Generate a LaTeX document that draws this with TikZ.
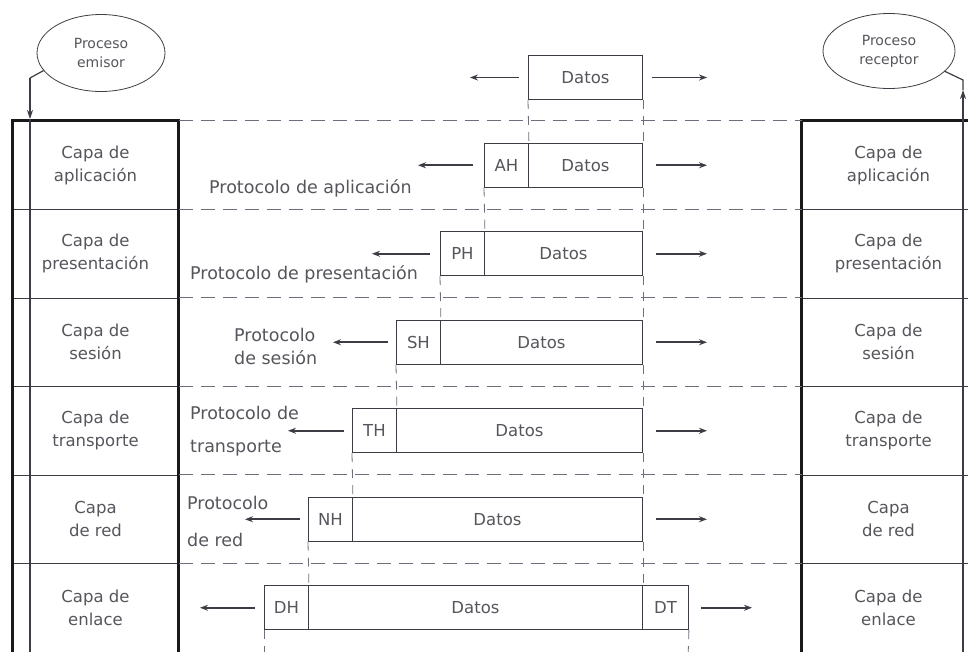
\documentclass[tikz,border=0pt]{standalone}
\usepackage{fontspec}
\setmainfont{DejaVu Sans}
\usetikzlibrary{shapes.geometric,arrows.meta}
\definecolor{ink}{HTML}{3C3C44}
\definecolor{txt}{HTML}{55555C}
\definecolor{dashc}{HTML}{6E6E7C}
\begin{document}
\begin{tikzpicture}[x=1pt,y=-1pt,
  font=\fontsize{16.5}{23}\selectfont,
  layer/.style={draw=ink, line width=1pt, minimum height=88.5pt, inner sep=0pt, text=txt, align=center},
  frame/.style={draw=black!90, line width=2.2pt},
  pkt/.style={draw=ink, line width=0.9pt, minimum height=44pt, inner sep=0pt, text=txt, anchor=west},
  hdr/.style={pkt, minimum width=44pt},
  vdash/.style={draw=dashc, line width=0.8pt, dash pattern=on 9pt off 7pt},
  hdash/.style={draw=dashc, line width=0.8pt, dash pattern=on 14pt off 8pt},
  arr/.style={draw=ink, line width=1.7pt, -{Stealth[length=8pt,width=6pt]}},
  proto/.style={text=txt, align=left, inner sep=0pt, font=\fontsize{17.5}{23}\selectfont},
  proc/.style={ellipse, draw=ink, line width=0.8pt, text=txt, align=center, inner sep=0pt,
    font=\fontsize{14}{19}\selectfont},
  conn/.style={draw=ink, line width=1.2pt}
]
\useasboundingbox (0,0) rectangle (968,651);

% ---------- process ellipses ----------
\node[proc, minimum width=128pt, minimum height=77pt] (emisor) at (101,53) {Proceso\\emisor};
\node[proc, minimum width=132pt, minimum height=75pt] (recep) at (889,51) {Proceso\\receptor};

% ---------- left stack ----------
\node[layer, minimum width=165pt] (l1) at (95.5,165.25) {Capa de\\aplicación};
\node[layer, minimum width=165pt] (l2) at (95.5,253.75) {Capa de\\presentación};
\node[layer, minimum width=165pt] (l3) at (95.5,342.25) {Capa de\\sesión};
\node[layer, minimum width=165pt] (l4) at (95.5,430.75) {Capa de\\transporte};
\node[layer, minimum width=165pt] (l5) at (95.5,519.25) {Capa\\de red};
\node[layer, minimum width=165pt] (l6) at (95.5,607.75) {Capa de\\enlace};
\draw[frame] (l6.south west) -- (l1.north west) -- (l1.north east) -- (l6.south east);

% ---------- right stack ----------
\node[layer, minimum width=173pt] (r1) at (888.5,165.25) {Capa de\\aplicación};
\node[layer, minimum width=173pt] (r2) at (888.5,253.75) {Capa de\\presentación};
\node[layer, minimum width=173pt] (r3) at (888.5,342.25) {Capa de\\sesión};
\node[layer, minimum width=173pt] (r4) at (888.5,430.75) {Capa de\\transporte};
\node[layer, minimum width=173pt] (r5) at (888.5,519.25) {Capa\\de red};
\node[layer, minimum width=173pt] (r6) at (888.5,607.75) {Capa de\\enlace};
\draw[frame] (r6.south west) -- (r1.north west) -- (r1.north east);

% ---------- process connectors ----------
\coordinate (ebend) at (30,78);
\coordinate (etip) at (30,119);
\coordinate (ebot) at (30,660);
\draw[conn] (emisor.197) -- (ebend);
\draw[conn, -{Stealth[length=9pt,width=6pt]}] (ebend) -- (etip);
\draw[conn] (etip) -- (ebot);
\coordinate (rbend) at (963,80);
\coordinate (rtip) at (963,90);
\coordinate (rbot) at (963,660);
\draw[conn] (recep.340) -- (rbend) -- (rtip);
\draw[conn, -{Stealth[length=9pt,width=6pt]}] (rbot) -- (rtip);

% ---------- horizontal dashed lines ----------
\draw[hdash] (l1.north east) -- (r1.north west);
\draw[hdash] (l2.north east) -- (r2.north west);
\draw[hdash] (l3.north east) -- (r3.north west);
\draw[hdash] (l4.north east) -- (r4.north west);
\draw[hdash] (l5.north east) -- (r5.north west);
\draw[hdash] (l6.north east) -- (r6.north west);

% ---------- packets ----------
\node[pkt, minimum width=114pt] (d0) at (528,77.5) {Datos};

\node[hdr] (h1) at (484,165.25) {AH};
\node[pkt, minimum width=114pt] (d1) at (528,165.25) {Datos};

\node[hdr] (h2) at (440,253.75) {PH};
\node[pkt, minimum width=158pt] (d2) at (484,253.75) {Datos};

\node[hdr] (h3) at (396,342.25) {SH};
\node[pkt, minimum width=202pt] (d3) at (440,342.25) {Datos};

\node[hdr] (h4) at (352,430.75) {TH};
\node[pkt, minimum width=246pt] (d4) at (396,430.75) {Datos};

\node[hdr] (h5) at (308,519.25) {NH};
\node[pkt, minimum width=290pt] (d5) at (352,519.25) {Datos};

\node[hdr] (h6) at (264,607.75) {DH};
\node[pkt, minimum width=334pt] (d6) at (308,607.75) {Datos};
\node[hdr, minimum width=46pt] (t6) at (642,607.75) {DT};

% ---------- vertical dashed guides ----------
\draw[vdash] (d0.south west) -- (h1.north east);
\draw[vdash] (d0.south east) -- (d1.north east);
\draw[vdash] (h1.south west) -- (h2.north east);
\draw[vdash] (d1.south east) -- (d2.north east);
\draw[vdash] (h2.south west) -- (h3.north east);
\draw[vdash] (d2.south east) -- (d3.north east);
\draw[vdash] (h3.south west) -- (h4.north east);
\draw[vdash] (d3.south east) -- (d4.north east);
\draw[vdash] (h4.south west) -- (h5.north east);
\draw[vdash] (d4.south east) -- (d5.north east);
\draw[vdash] (h5.south west) -- (h6.north east);
\draw[vdash] (d5.south east) -- (d6.north east);
\coordinate (g6l) at (264,660);
\coordinate (g6r) at (688,660);
\draw[vdash] (h6.south west) -- (g6l);
\draw[vdash] (t6.south east) -- (g6r);

% ---------- left arrows ----------
\coordinate (a0) at (470,77.5);
\coordinate (a1) at (418,165.25);
\coordinate (a2) at (372,253.75);
\coordinate (a3) at (333,342.25);
\coordinate (a4) at (288,430.75);
\coordinate (a5) at (245,519.25);
\coordinate (a6) at (200,607.75);
\draw[arr] ([xshift=-9pt]d0.west) -- (a0);
\draw[arr] ([xshift=-11pt]h1.west) -- (a1);
\draw[arr] ([xshift=-10pt]h2.west) -- (a2);
\draw[arr] ([xshift=-8pt]h3.west) -- (a3);
\draw[arr] ([xshift=-8pt]h4.west) -- (a4);
\draw[arr] ([xshift=-8pt]h5.west) -- (a5);
\draw[arr] ([xshift=-9pt]h6.west) -- (a6);

% ---------- right arrows ----------
\coordinate (b0) at (707,77.5);
\coordinate (b1) at (707,165.25);
\coordinate (b2) at (707,253.75);
\coordinate (b3) at (707,342.25);
\coordinate (b4) at (707,430.75);
\coordinate (b5) at (707,519.25);
\coordinate (b6) at (752,607.75);
\draw[arr] ([xshift=9pt]d0.east) -- (b0);
\draw[arr] ([xshift=13pt]d1.east) -- (b1);
\draw[arr] ([xshift=13pt]d2.east) -- (b2);
\draw[arr] ([xshift=13pt]d3.east) -- (b3);
\draw[arr] ([xshift=13pt]d4.east) -- (b4);
\draw[arr] ([xshift=13pt]d5.east) -- (b5);
\draw[arr] ([xshift=12pt]t6.east) -- (b6);

% ---------- protocol labels ----------
\node[proto, anchor=base west] (p1) at (209,193) {Protocolo de aplicación};
\node[proto, anchor=base west] (p2) at (190,279) {Protocolo de presentación};
\node[proto, anchor=west, font=\fontsize{17.5}{23}\selectfont] (p3) at (234,346) {Protocolo\\de sesión};
\node[proto, anchor=west, font=\fontsize{17.5}{33}\selectfont] (p4) at (190,431) {Protocolo de\\transporte};
\node[proto, anchor=west, font=\fontsize{17.5}{37}\selectfont] (p5) at (187,521) {Protocolo\\de red};
\end{tikzpicture}
\end{document}
